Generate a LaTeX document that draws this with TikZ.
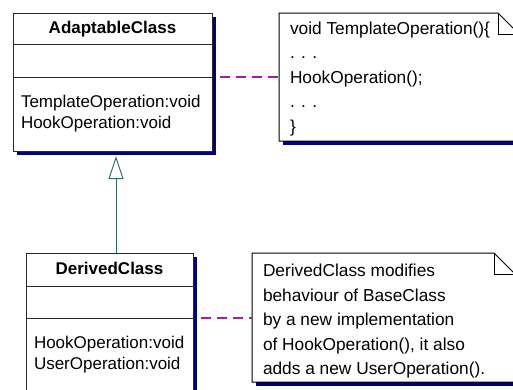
\documentclass[tikz,border=0pt]{standalone}
\usepackage{fontspec}
\setmainfont{Liberation Sans}
\usetikzlibrary{positioning,shadows,arrows.meta}

\definecolor{umlshadow}{RGB}{0,0,128}
\definecolor{umlline}{RGB}{40,40,40}
\definecolor{linkcol}{RGB}{160,30,170}
\definecolor{gencol}{RGB}{50,105,105}

\begin{document}
\begin{tikzpicture}[x=1pt, y=-1pt,
        every node/.style={font=\fontsize{17}{21}\selectfont, inner sep=0pt, outer sep=0pt},
        umlpart/.style={draw=umlline, line width=1pt, fill=white,
            drop shadow={shadow xshift=4pt, shadow yshift=-4pt, shadow scale=1, fill=umlshadow, opacity=1}},
        classhead/.style={umlpart, font=\fontsize{17}{21}\selectfont\bfseries, text height=12pt, text depth=3pt},
        classops/.style={umlpart, align=left, inner xsep=8pt},
        notebox/.style={fill=white,
            drop shadow={shadow xshift=4pt, shadow yshift=-4pt, shadow scale=1, fill=umlshadow, opacity=1}},
        notetext/.style={font=\fontsize{17.3}{24.5}\selectfont, align=left, anchor=west},
        noteline/.style={draw=black, line width=1pt},
        notelink/.style={draw=linkcol, line width=1.1pt, dash pattern=on 10pt off 6pt, dash phase=12pt},
        generalize/.style={draw=gencol, line width=1pt, -{Triangle[open, length=23pt, width=15pt]}}
    ]
    \useasboundingbox (0,0) rectangle (513,389);
    \clip (0,0) rectangle (513,389);

    % Adaptable class
    \node[classhead, minimum width=199pt, minimum height=31pt, anchor=north west] (adaptHead) at (13,13) {AdaptableClass};
    \node[umlpart, minimum width=199pt, minimum height=33pt, below=0pt of adaptHead] (adaptAttr) {};
    \node[classops, text width=183pt, minimum height=74pt, below=0pt of adaptAttr] (adaptOps) {TemplateOperation:void\\HookOperation:void};

    % Derived class
    \node[classhead, minimum width=167pt, minimum height=33pt, anchor=north west] (derivedHead) at (26,253) {DerivedClass};
    \node[umlpart, minimum width=167pt, minimum height=32pt, below=0pt of derivedHead] (derivedAttr) {};
    \node[classops, text width=151pt, minimum height=73pt, below=0pt of derivedAttr] (derivedOps) {HookOperation:void\\UserOperation:void};

    % Notes
    \node[notebox, minimum width=240pt, minimum height=128pt, anchor=north west] (tmplNote) at (279,13) {};
    \node[notetext] (tmplText) at ([xshift=11pt, yshift=-1.6pt]tmplNote.west)
        {void TemplateOperation()\{\\. . .\\HookOperation();\\. . .\\\}};

    \node[notebox, minimum width=263pt, minimum height=129pt, anchor=north west] (hookNote) at (252,253) {};
    \node[notetext] (hookText) at ([xshift=11pt, yshift=-4pt]hookNote.west)
        {DerivedClass modifies\\behaviour of BaseClass\\by a new implementation\\of HookOperation(), it also\\adds a new UserOperation().};

    % folded corners
    \foreach \n in {tmplNote, hookNote} {
        \draw[noteline] (\n.south west) -- (\n.north west) -- ([xshift=-21pt]\n.north east)
            -- ([yshift=-21pt]\n.north east) -- (\n.south east) -- cycle;
        \draw[noteline] ([xshift=-21pt]\n.north east) -- ([xshift=-21pt, yshift=-21pt]\n.north east)
            -- ([yshift=-21pt]\n.north east);
    }

    % Links
    \draw[notelink] ([xshift=4pt]adaptOps.north east) -- (adaptOps.north east -| tmplNote.west);
    \draw[notelink] ([xshift=4pt]derivedOps.north east) -- (derivedOps.north east -| hookNote.west);
    \draw[generalize] ([xshift=6.5pt]derivedHead.north) -- ([xshift=3.5pt, yshift=-5pt]adaptOps.south);
\end{tikzpicture}
\end{document}
